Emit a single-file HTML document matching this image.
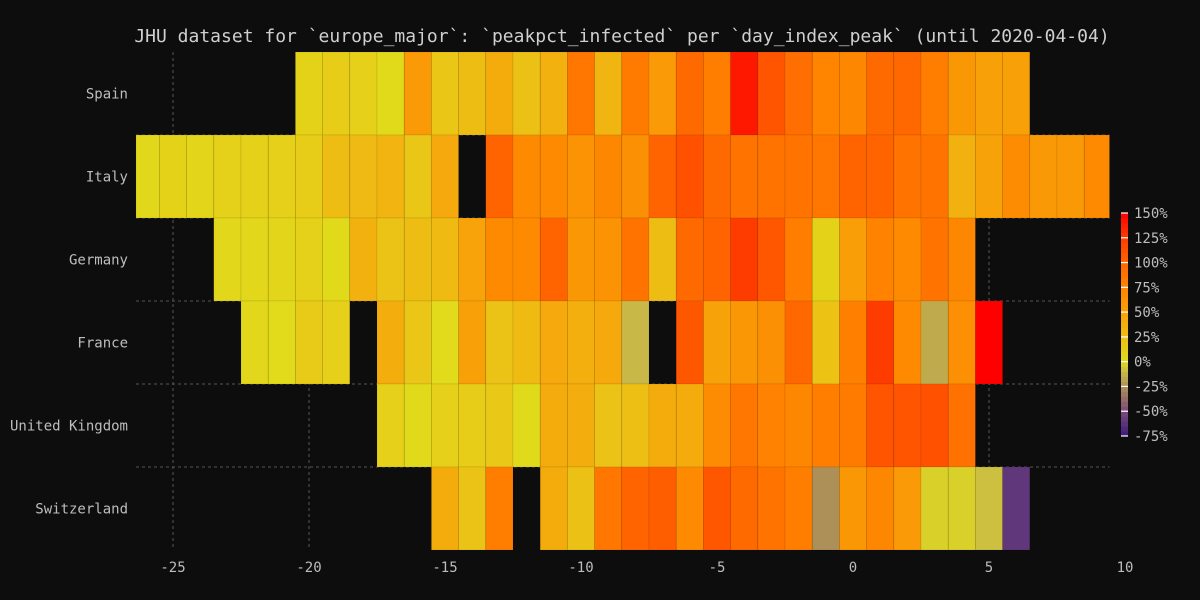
<!DOCTYPE html>
<html><head><meta charset="utf-8"><style>
html,body{margin:0;padding:0;background:#0d0d0d;}
svg{display:block;font-family:"DejaVu Sans Mono","Liberation Mono",monospace;}
</style></head><body>
<svg id="chart" width="1200" height="600" viewBox="0 0 1200 600">
<rect width="1200" height="600" fill="#0d0d0d"/>
<text x="622" y="42" text-anchor="middle" font-size="18" fill="#cfcfcf">JHU dataset for `europe_major`: `peakpct_infected` per `day_index_peak` (until 2020-04-04)</text>
<g id="grid"></g><g id="cells"></g><g id="axes"></g><g id="cbar"></g>
</svg>
<script>
const countries = ["Spain","Italy","Germany","France","United Kingdom","Switzerland"];
const startDays = [-20,-26,-23,-22,-17,-15];
const spainVals = [8,12,10,2,55,18,25,40,22,35,85,32,82,55,95,80,140,110,92,75,72,95,97,80,58,50,50];
const italyVals = [3,8,6,9,9,10,13,25,28,33,18,42,null,100,70,70,62,72,64,100,112,95,88,88,88,86,100,100,88,88,35,48,68,56,56,70];
const germanyVals = [4,4,5,9,2,35,20,25,27,47,70,70,100,58,62,88,25,95,100,125,108,80,8,52,76,70,88,72];
const franceVals = [4,1,14,10,null,38,18,1,50,20,27,42,37,42,-10,null,108,48,58,64,97,21,78,125,70,-15,65,150];
const ukVals = [10,2,10,12,16,2,40,38,20,24,40,40,68,86,76,72,80,82,110,110,112,90];
const swissVals = [40,20,80,null,40,22,86,100,104,70,108,95,88,80,-25,58,72,55,-3,-3,-8,-60];
const seriesVals = [spainVals,italyVals,germanyVals,franceVals,ukVals,swissVals];
const xTicks = [-25,-20,-15,-10,-5,0,5,10];
const cbarTicks = [150,125,100,75,50,25,0,-25,-50,-75];

const NS="http://www.w3.org/2000/svg";
const X0=853, PX=27.2, TOP=52, ROWH=83, LEFT=136, RIGHT=1109.5, BOT=550;
const xs = d => X0 + d*PX;
const ys = i => TOP + i*ROWH;
const stops=[[-75,[60,26,128]],[-50,[122,74,120]],[-25,[173,144,88]],[-10,[200,184,72]],[0,[224,220,28]],[25,[238,189,20]],[50,[248,160,8]],[75,[255,132,0]],[100,[255,100,0]],[125,[255,60,0]],[150,[255,0,0]]];
function color(v){
  v=Math.max(-75,Math.min(150,v));
  for(let i=0;i<stops.length-1;i++){const a=stops[i],b=stops[i+1];
    if(v<=b[0]){const t=(v-a[0])/(b[0]-a[0]);const c=a[1].map((q,k)=>Math.round(q+(b[1][k]-q)*t));return `rgb(${c})`;}}
  return 'rgb(255,0,0)';
}
function mk(tag,attrs,parent){const e=document.createElementNS(NS,tag);for(const k in attrs)e.setAttribute(k,attrs[k]);parent.appendChild(e);return e;}
const grid=document.getElementById('grid'),cells=document.getElementById('cells'),axes=document.getElementById('axes'),cbar=document.getElementById('cbar');
xTicks.forEach(t=>{
  const x=xs(t);
  if(x<RIGHT){const l=mk('line',{x1:x,x2:x,y1:TOP,y2:BOT,stroke:'#555','stroke-dasharray':'3,3','stroke-width':1},grid);
  
  }
  const tx=mk('text',{x:x,y:572,'text-anchor':'middle','font-size':14,fill:'#bdbdbd'},axes);
  tx.textContent=t;
  
  
});
for(let i=1;i<countries.length;i++){
  const l=mk('line',{x1:LEFT,x2:RIGHT,y1:ys(i),y2:ys(i),stroke:'#555','stroke-dasharray':'3,3'},grid);
  
  
}
countries.forEach((c,i)=>{
  const t=mk('text',{x:128,y:ys(i)+ROWH/2+5,'text-anchor':'end','font-size':14,fill:'#bdbdbd'},axes);
  t.textContent=c;
  
  
  seriesVals[i].forEach((v,j)=>{
    if(v===null)return;
    const d=startDays[i]+j;
    let x1=Math.max(LEFT,xs(d-0.5)),x2=Math.min(RIGHT,xs(d+0.5));
    const r=mk('rect',{x:x1,y:ys(i),width:x2-x1,height:ROWH,fill:color(v),stroke:'rgba(0,0,0,0.1)','stroke-width':0.8},cells);
    
    
  });
});
// colorbar
const CB_T=213,CB_B=436,CBX=1121,CBW=7;
const cy=v=>CB_B-(v+75)/225*(CB_B-CB_T);
for(let v=-75;v<150;v+=5){
  const r=mk('rect',{x:CBX,y:cy(v+5),width:CBW,height:cy(v)-cy(v+5)+0.5,fill:color(v+2.5)},cbar);
  
  
}
cbarTicks.forEach(t=>{
  const l=mk('line',{x1:CBX,x2:CBX+CBW,y1:cy(t),y2:cy(t),stroke:'#fff','stroke-width':1.2},cbar);
  
  
  const tx=mk('text',{x:1134,y:cy(t)+5,'font-size':14,fill:'#bdbdbd'},cbar);
  tx.textContent=t+'%';
  
  
});
</script>
</body></html>
